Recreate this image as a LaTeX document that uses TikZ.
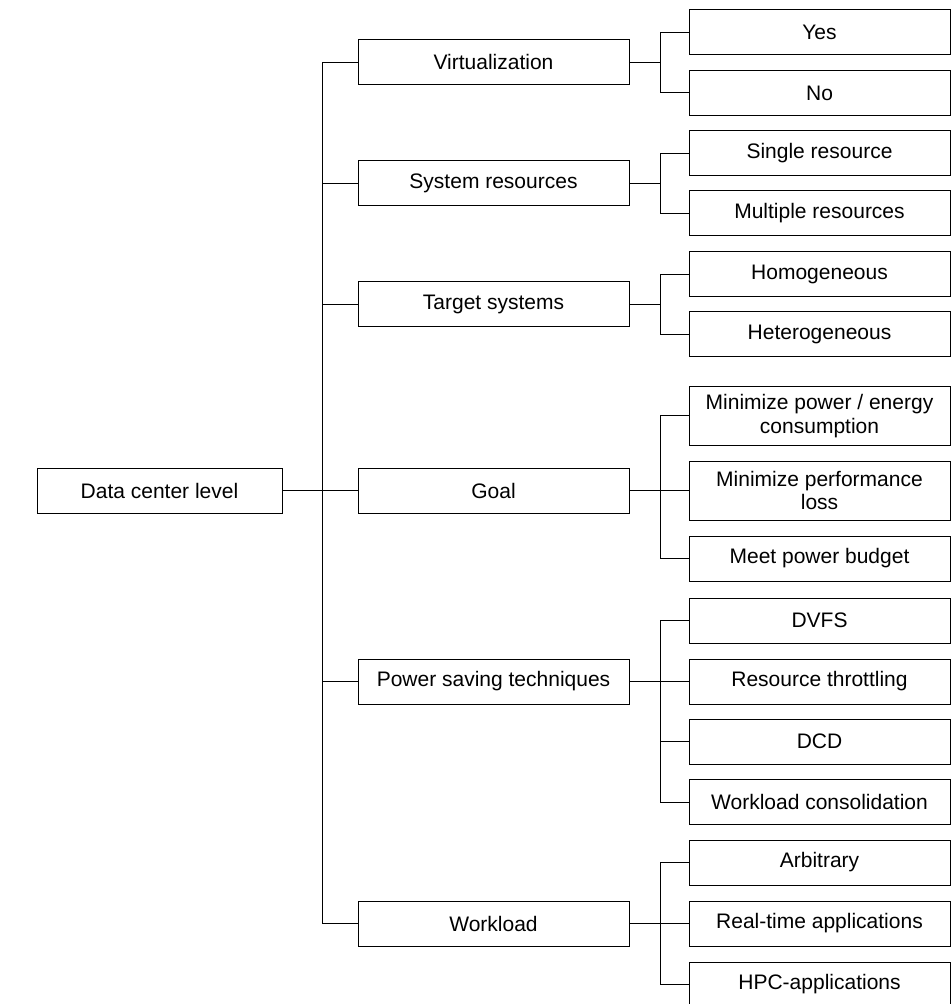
\documentclass[tikz,border=0pt]{standalone}
\usepackage{fontspec}
\setmainfont{Liberation Sans}

\begin{document}
\begin{tikzpicture}[x=0.5pt,y=-0.5pt,line width=0.5pt,
  box/.style={draw,inner sep=0pt,align=center,font=\fontsize{10.5}{11.8}\selectfont},
  rootbox/.style={box,minimum width=122.5pt,minimum height=22.5pt},
  catbox/.style={box,minimum width=135.5pt,minimum height=22.5pt},
  leafbox/.style={box,minimum width=130.5pt,minimum height=22.5pt},
  tallbox/.style={leafbox,minimum height=29.5pt}]
\useasboundingbox (0,0) rectangle (951,1004);

% root and categories
\node[rootbox] (R) at (159.5,490.5) {Data center level};
\node[catbox] (V) at (493.5,62.5) {Virtualization};
\node[catbox] (S) at (493.5,183.5) {System resources};
\node[catbox] (T) at (493.5,304.5) {Target systems};
\node[catbox] (G) at (493.5,490.5) {Goal};
\node[catbox] (P) at (493.5,681.5) {Power saving techniques};
\node[catbox] (W) at (493.5,923.5) {Workload};

% leaves
\node[leafbox] (V1) at (819.5,32.5) {Yes};
\node[leafbox] (V2) at (819.5,93) {No};
\node[leafbox] (S1) at (819.5,153.5) {Single resource};
\node[leafbox] (S2) at (819.5,213.5) {Multiple resources};
\node[leafbox] (T1) at (819.5,274.5) {Homogeneous};
\node[leafbox] (T2) at (819.5,334.5) {Heterogeneous};
\node[tallbox] (G1) at (819.5,416) {Minimize power / energy\\consumption};
\node[tallbox] (G2) at (819.5,490.5) {Minimize performance\\loss};
\node[leafbox] (G3) at (819.5,558.5) {Meet power budget};
\node[leafbox] (P1) at (819.5,620.5) {DVFS};
\node[leafbox] (P2) at (819.5,681.5) {Resource throttling};
\node[leafbox] (P3) at (819.5,741.5) {DCD};
\node[leafbox] (P4) at (819.5,802) {Workload consolidation};
\node[leafbox] (W1) at (819.5,862.5) {Arbitrary};
\node[leafbox] (W2) at (819.5,923.5) {Real-time applications};
\node[leafbox] (W3) at (819.5,984.5) {HPC-applications};

% trunk
\draw (R.east) -- (G.west);
\draw (R.east) -- ++(40,0) |- (V.west);
\draw (R.east) -- ++(40,0) |- (S.west);
\draw (R.east) -- ++(40,0) |- (T.west);
\draw (R.east) -- ++(40,0) |- (P.west);
\draw (R.east) -- ++(40,0) |- (W.west);

% branches
\draw (V.east) -- ++(31,0) |- (V1.west);
\draw (V.east) -- ++(31,0) |- (V2.west);
\draw (S.east) -- ++(31,0) |- (S1.west);
\draw (S.east) -- ++(31,0) |- (S2.west);
\draw (T.east) -- ++(31,0) |- (T1.west);
\draw (T.east) -- ++(31,0) |- (T2.west);
\draw (G.east) -- ++(31,0) |- (G1.west);
\draw (G.east) -- (G2.west);
\draw (G.east) -- ++(31,0) |- (G3.west);
\draw (P.east) -- ++(31,0) |- (P1.west);
\draw (P.east) -- (P2.west);
\draw (P.east) -- ++(31,0) |- (P3.west);
\draw (P.east) -- ++(31,0) |- (P4.west);
\draw (W.east) -- ++(31,0) |- (W1.west);
\draw (W.east) -- (W2.west);
\draw (W.east) -- ++(31,0) |- (W3.west);

\end{tikzpicture}
\end{document}
